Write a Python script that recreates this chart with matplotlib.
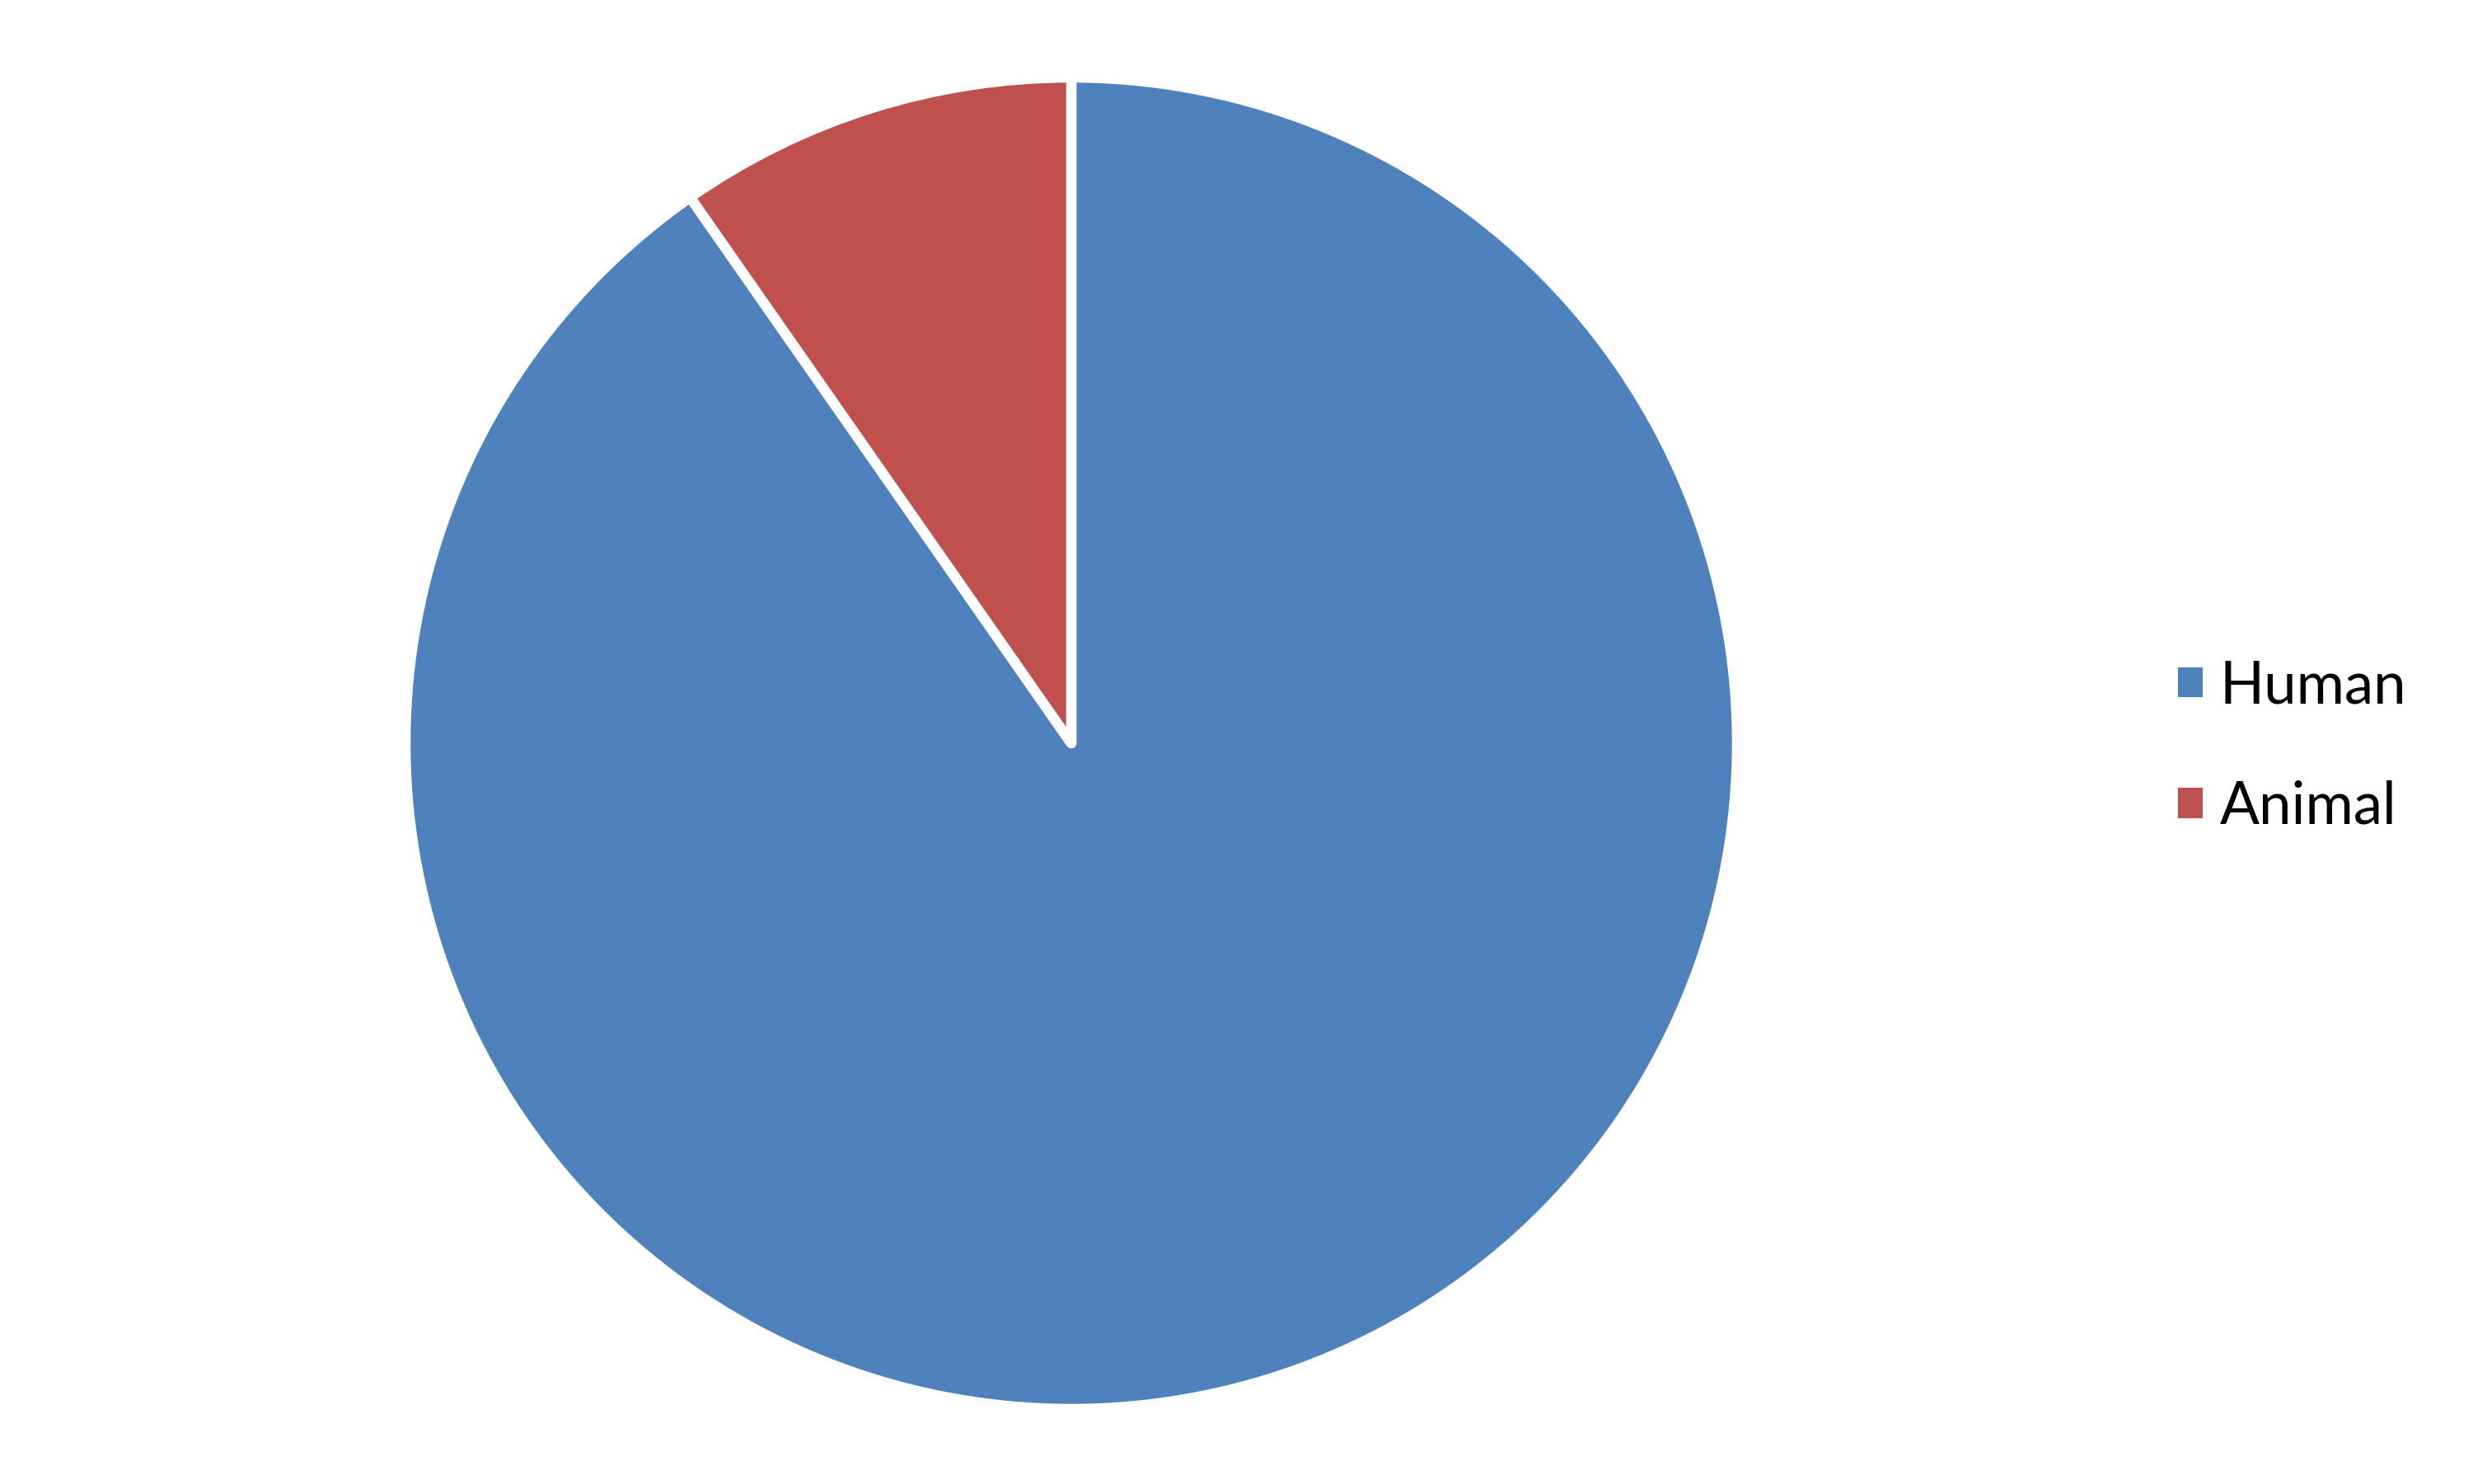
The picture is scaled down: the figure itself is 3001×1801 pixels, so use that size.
import matplotlib
matplotlib.use("Agg")
import matplotlib.pyplot as plt

labels = ["Human", "Animal"]
values = [90.3, 9.7]
colors = ["#4F81BD", "#C0504D"]

W, H, DPI = 3001, 1801, 200
fig = plt.figure(figsize=(W / DPI, H / DPI), dpi=DPI)

cx, cy, r = 1300, 902, 808
ax = fig.add_axes([(cx - r) / W, (H - cy - r) / H, 2 * r / W, 2 * r / H])
wedges, _ = ax.pie(values, colors=colors, startangle=90, counterclock=False,
                   radius=1,
                   wedgeprops=dict(edgecolor="white", linewidth=4.5, joinstyle="round"))
ax.set_xlim(-1.0, 1.0)
ax.set_ylim(-1.0, 1.0)
ax.set_aspect("equal")
ax.axis("off")

leg = fig.legend(wedges, labels, loc="center left",
                 bbox_to_anchor=(2643 / W, 0.497), frameon=False,
                 prop=dict(family="Lato", size=25.5),
                 handlelength=0.42, handleheight=0.42, handletextpad=0.3,
                 labelspacing=1.15, borderpad=0, borderaxespad=0)
for h in leg.legend_handles:
    h.set_linewidth(0)

fig.savefig("out.png", dpi=DPI)
